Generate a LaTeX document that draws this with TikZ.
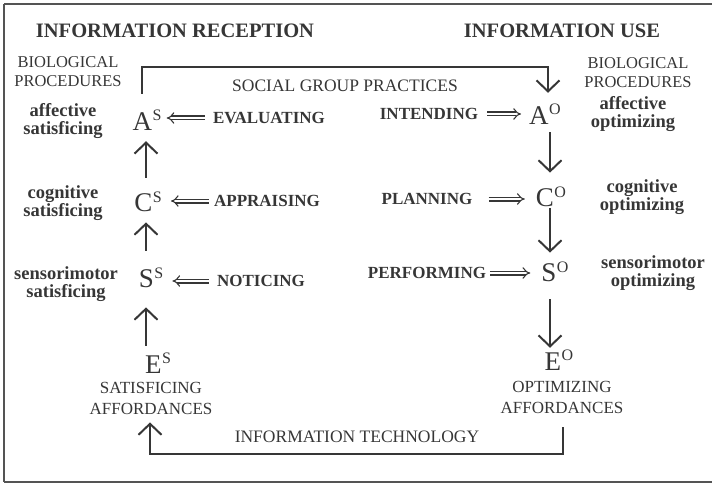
\documentclass[tikz,border=0pt]{standalone}
\usepackage{fontspec}
\setmainfont{Liberation Serif}
\usetikzlibrary{arrows.meta}
\newcommand\fsz[2]{\fontsize{#1}{#2}\selectfont}
\newcommand\ltr[2]{#1\kern0.5pt\raisebox{9.5pt}{\fsz{16}{16}#2}}
\definecolor{ink}{HTML}{363636}
\begin{document}
\begin{tikzpicture}[x=1pt,y=-1pt,
  every node/.style={inner sep=0pt, text=ink},
  title/.style={font=\fsz{20.5}{24}\bfseries},
  caps/.style={font=\fsz{16.5}{19}, align=center},
  act/.style={font=\fsz{17}{20}\bfseries},
  low/.style={font=\fsz{18.5}{18.5}\bfseries, align=center},
  letter/.style={font=\fsz{27}{30}},
  barb/.tip={Straight Barb[length=11pt,width=23pt,line width=2pt]},
  conn/.style={draw=ink, line width=1.8pt, -barb},
  up/.style={draw=ink, line width=2.4pt, -barb},
  dbl/.style={draw=ink, double, double distance=2.8pt, line width=1.1pt, -{Implies}},
  frame/.style={draw=ink!85},
]
\useasboundingbox (0,0) rectangle (712,484);
% frame
\draw[frame, line width=1.3pt] (712,4) -- (4,4);
\draw[frame, line width=1.8pt] (4,4) -- (4,482);
\draw[frame, line width=2.6pt] (4,482) -- (712,482);

% titles and headers
\node[title] (ttl) at (175,31) {INFORMATION RECEPTION};
\node[title] (ttr) at (562,31) {INFORMATION USE};
\node[caps] (bpl) at (68,72) {BIOLOGICAL\\PROCEDURES};
\node[caps] (bpr) at (638,73) {BIOLOGICAL\\PROCEDURES};
\node[caps, font=\fsz{17.5}{20}] (sgp) at (345,86) {SOCIAL GROUP PRACTICES};

% letters
\node[letter] (As) at (147,120) {\ltr{A}{S}};
\node[letter] (Cs) at (148,202) {\ltr{C}{S}};
\node[letter] (Ss) at (151,278) {\ltr{S}{S}};
\node[letter] (Es) at (158,363) {\ltr{E}{S}};
\node[letter] (Ao) at (545,114) {\ltr{A}{O}};
\node[letter] (Co) at (551,197) {\ltr{C}{O}};
\node[letter] (So) at (555,272) {\ltr{S}{O}};
\node[letter] (Eo) at (559,360) {\ltr{E}{O}};

% activity labels
\node[act] (ev) at (269,118) {EVALUATING};
\node[act] (ap) at (267,201) {APPRAISING};
\node[act] (no) at (261,281) {NOTICING};
\node[act] (in) at (429,114) {INTENDING};
\node[act] (pl) at (427,199) {PLANNING};
\node[act] (pe) at (427,273) {PERFORMING};

% side labels
\node[low] (al) at (63,121) {affective\\satisficing};
\node[low] (cl) at (63,203) {cognitive\\satisficing};
\node[low] (sl) at (66,284) {sensorimotor\\satisficing};
\node[low] (ar) at (633,114) {affective\\optimizing};
\node[low] (cr) at (642,197) {cognitive\\optimizing};
\node[low] (sr) at (653,273) {sensorimotor\\optimizing};

\node[caps, font=\fsz{17}{21}] (sa) at (151,398) {SATISFICING\\AFFORDANCES};
\node[caps, font=\fsz{17}{21}] (oa) at (562,397) {OPTIMIZING\\AFFORDANCES};
\node[caps, font=\fsz{17.5}{20}] (it) at (357,437) {INFORMATION TECHNOLOGY};

% columns
\coordinate (colL) at (146,0);
\coordinate (colR) at (550,0);
\draw[up, shorten <=14pt, shorten >=11pt] (Cs.north -| colL) -- (As.south -| colL);
\draw[up, shorten <=17pt, shorten >=10pt] (Ss.north -| colL) -- (Cs.south -| colL);
\draw[up, shorten <=7pt, shorten >=19pt] (Es.north -| colL) -- (Ss.south -| colL);
\draw[up, shorten <=8pt, shorten >=14pt] (Ao.south -| colR) -- (Co.north -| colR);
\draw[up, shorten <=1pt, shorten >=9pt] (Co.south -| colR) -- (So.north -| colR);
\draw[up, shorten <=17pt, shorten >=2pt] (So.south -| colR) -- (Eo.north -| colR);

% top connector
\coordinate (tl) at (142,67);
\coordinate (tr) at (548,67);
\draw[conn, shorten <=16pt, shorten >=11pt] (tl |- As.north) -- (tl) -- (tr) -- (tr |- Ao.north);

% bottom connector
\coordinate (bl) at (150,454);
\coordinate (br) at (563,454);
\draw[conn, shorten <=14pt, shorten >=8pt] (br |- oa.south) -- (br) -- (bl) -- (bl |- sa.south);

% double arrows
\draw[dbl, shorten <=8pt, shorten >=5pt] (ev.west) -- (ev.west -| As.east);
\draw[dbl, shorten <=5pt, shorten >=9pt] (ap.west) -- (ap.west -| Cs.east);
\draw[dbl, shorten <=8pt, shorten >=9pt] (no.west) -- (no.west -| Ss.east);
\draw[dbl, shorten <=9pt, shorten >=8pt] (in.east) -- (in.east -| Ao.west);
\draw[dbl, shorten <=16pt, shorten >=11pt] (pl.east) -- (pl.east -| Co.west);
\draw[dbl, shorten <=4pt, shorten >=11pt] (pe.east) -- (pe.east -| So.west);
\end{tikzpicture}
\end{document}
